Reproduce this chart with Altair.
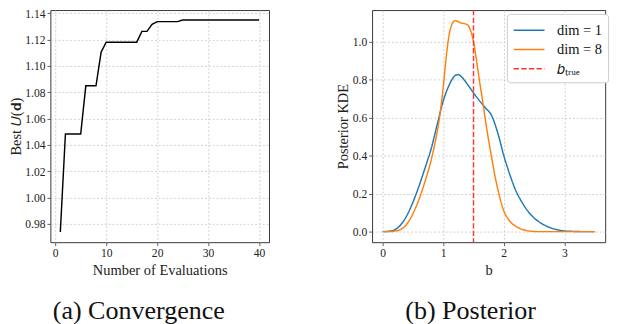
import altair as alt
import pandas as pd

FONT = "Liberation Serif"

# ---- Panel (a): convergence ----
evals = list(range(1, 41))
best_u = [0.9737, 1.0483, 1.0483, 1.0483, 1.0483, 1.0849, 1.0849, 1.0849, 1.1104, 1.1181,
          1.1181, 1.1181, 1.1181, 1.1181, 1.1181, 1.1181, 1.1263, 1.1263, 1.1316, 1.1337,
          1.1337, 1.1337, 1.1337, 1.1337, 1.1349, 1.1349, 1.1349, 1.1349, 1.1349, 1.1349,
          1.1349, 1.1349, 1.1349, 1.1349, 1.1349, 1.1349, 1.1349, 1.1349, 1.1349, 1.1349]
conv_xticks = [0, 10, 20, 30, 40]
conv_yticks = [0.98, 1.00, 1.02, 1.04, 1.06, 1.08, 1.10, 1.12, 1.14]

# ---- Panel (b): posterior KDE ----
b_dim1 = [0.0, 0.1, 0.2, 0.3, 0.4, 0.5, 0.6, 0.7, 0.8, 0.9, 1.0, 1.1, 1.2, 1.25, 1.3, 1.4,
          1.5, 1.6, 1.7, 1.8, 1.9, 2.0, 2.1, 2.2, 2.3, 2.4, 2.5, 2.6, 2.7, 2.8, 2.9, 3.0,
          3.1, 3.2, 3.3, 3.4, 3.5]
kde_dim1 = [0.000, 0.002, 0.010, 0.037, 0.085, 0.155, 0.240, 0.335, 0.435, 0.563, 0.688,
            0.772, 0.822, 0.826, 0.815, 0.775, 0.730, 0.688, 0.650, 0.610, 0.520, 0.400,
            0.300, 0.215, 0.155, 0.107, 0.072, 0.048, 0.030, 0.017, 0.009, 0.004, 0.002,
            0.001, 0.000, 0.000, 0.000]
b_dim8 = [0.0, 0.1, 0.2, 0.3, 0.4, 0.5, 0.6, 0.7, 0.8, 0.85, 0.9, 0.95, 1.0, 1.05, 1.1,
          1.15, 1.2, 1.25, 1.3, 1.35, 1.4, 1.45, 1.5, 1.55, 1.6, 1.65, 1.7, 1.75, 1.8,
          1.85, 1.9, 1.95, 2.0, 2.1, 2.2, 2.3, 2.4, 2.5, 2.6, 2.8, 3.0, 3.2, 3.5]
kde_dim8 = [0.000, 0.000, 0.003, 0.012, 0.040, 0.095, 0.170, 0.265, 0.375, 0.445, 0.525,
            0.625, 0.760, 0.920, 1.040, 1.095, 1.110, 1.104, 1.097, 1.094, 1.088, 1.060,
            1.000, 0.900, 0.790, 0.690, 0.580, 0.480, 0.390, 0.300, 0.225, 0.160, 0.110,
            0.055, 0.028, 0.012, 0.004, 0.001, 0.000, 0.000, 0.000, 0.000, 0.000]
b_true = 1.5
series_names = ["dim = 1", "dim = 8", "𝑏ₜᵣᵤₑ"]
series_colors = ["#1f77b4", "#ff7f0e", "#ff3333"]
series_dash = [[1, 0], [1, 0], [5.5, 2.4]]
post_xticks = [0, 1, 2, 3]
post_yticks = [0.0, 0.2, 0.4, 0.6, 0.8, 1.0]

df_conv = pd.DataFrame({"evals": evals, "best": best_u})
df_kde = pd.concat([
    pd.DataFrame({"b": b_dim1, "kde": kde_dim1, "series": series_names[0]}),
    pd.DataFrame({"b": b_dim8, "kde": kde_dim8, "series": series_names[1]}),
])
df_true = pd.DataFrame({"b": [b_true], "series": [series_names[2]]})

H = 241

def caption(text):
    return alt.TitleParams(text, orient="bottom", frame="bounds", anchor="middle",
                           fontSize=27, font=FONT, fontWeight="normal", color="#111",
                           offset=22)

left = alt.Chart(df_conv).mark_line(color="black", strokeWidth=1.5, clip=True).encode(
    x=alt.X("evals:Q", scale=alt.Scale(domain=[-0.95, 41.95], nice=False, zero=False),
            axis=alt.Axis(values=conv_xticks, title="Number of Evaluations", titlePadding=5)),
    y=alt.Y("best:Q", scale=alt.Scale(domain=[0.966, 1.1425], nice=False, zero=False),
            axis=alt.Axis(values=conv_yticks, format=".2f", title="Best 𝑈(𝐝)")),
).properties(width=227, height=H, title=caption("(a) Convergence"))

color_scale = alt.Scale(domain=series_names, range=series_colors)
dash_scale = alt.Scale(domain=series_names, range=series_dash)
legend = alt.Legend(title=None, orient="none", legendX=474, legendY=4,
                    symbolType="M-1,0H2.2", symbolSize=400, symbolStrokeWidth=1.5,
                    labelFont=FONT, labelFontSize=15, labelColor="#111", labelOffset=24,
                    fillColor="white", strokeColor="#cccccc", cornerRadius=3, padding=6,
                    rowPadding=1)

xb = alt.X("b:Q", scale=alt.Scale(domain=[-0.175, 3.675], nice=False, zero=False),
           axis=alt.Axis(values=post_xticks, format="d", title="b", titlePadding=5))

lines = alt.Chart(df_kde).mark_line(strokeWidth=1.5, interpolate="monotone", clip=True).encode(
    x=xb,
    y=alt.Y("kde:Q", scale=alt.Scale(domain=[-0.0555, 1.1655], nice=False, zero=False),
            axis=alt.Axis(values=post_yticks, format=".1f", title="Posterior KDE")),
    color=alt.Color("series:N", scale=color_scale, legend=legend),
    strokeDash=alt.StrokeDash("series:N", scale=dash_scale, legend=legend),
    detail="series:N",
)
rule = alt.Chart(df_true).mark_rule(strokeWidth=1.5).encode(
    x=xb,
    color=alt.Color("series:N", scale=color_scale, legend=legend),
    strokeDash=alt.StrokeDash("series:N", scale=dash_scale, legend=legend),
)
right = alt.layer(lines, rule).properties(width=242, height=H, title=caption("(b) Posterior"))

chart = alt.hconcat(left, right, spacing=68).properties(
    padding={"left": 0, "top": -8, "right": 1, "bottom": 0}
).configure_view(stroke="#333", strokeWidth=1).configure_axis(
    labelFont=FONT, labelFontSize=12, labelColor="#222",
    titleFont=FONT, titleFontSize=15, titleFontWeight="normal", titleColor="#222",
    tickSize=3.5, tickColor="#333", tickWidth=0.8, domain=False,
    grid=True, gridColor="#c4c4c4", gridDash=[2, 2], gridWidth=0.8,
    labelPadding=2, titlePadding=2,
).configure_legend(
    labelFont=FONT, labelFontSize=15, labelColor="#111"
)

chart.save("out.html", embed_options={"renderer": "svg", "actions": False})
